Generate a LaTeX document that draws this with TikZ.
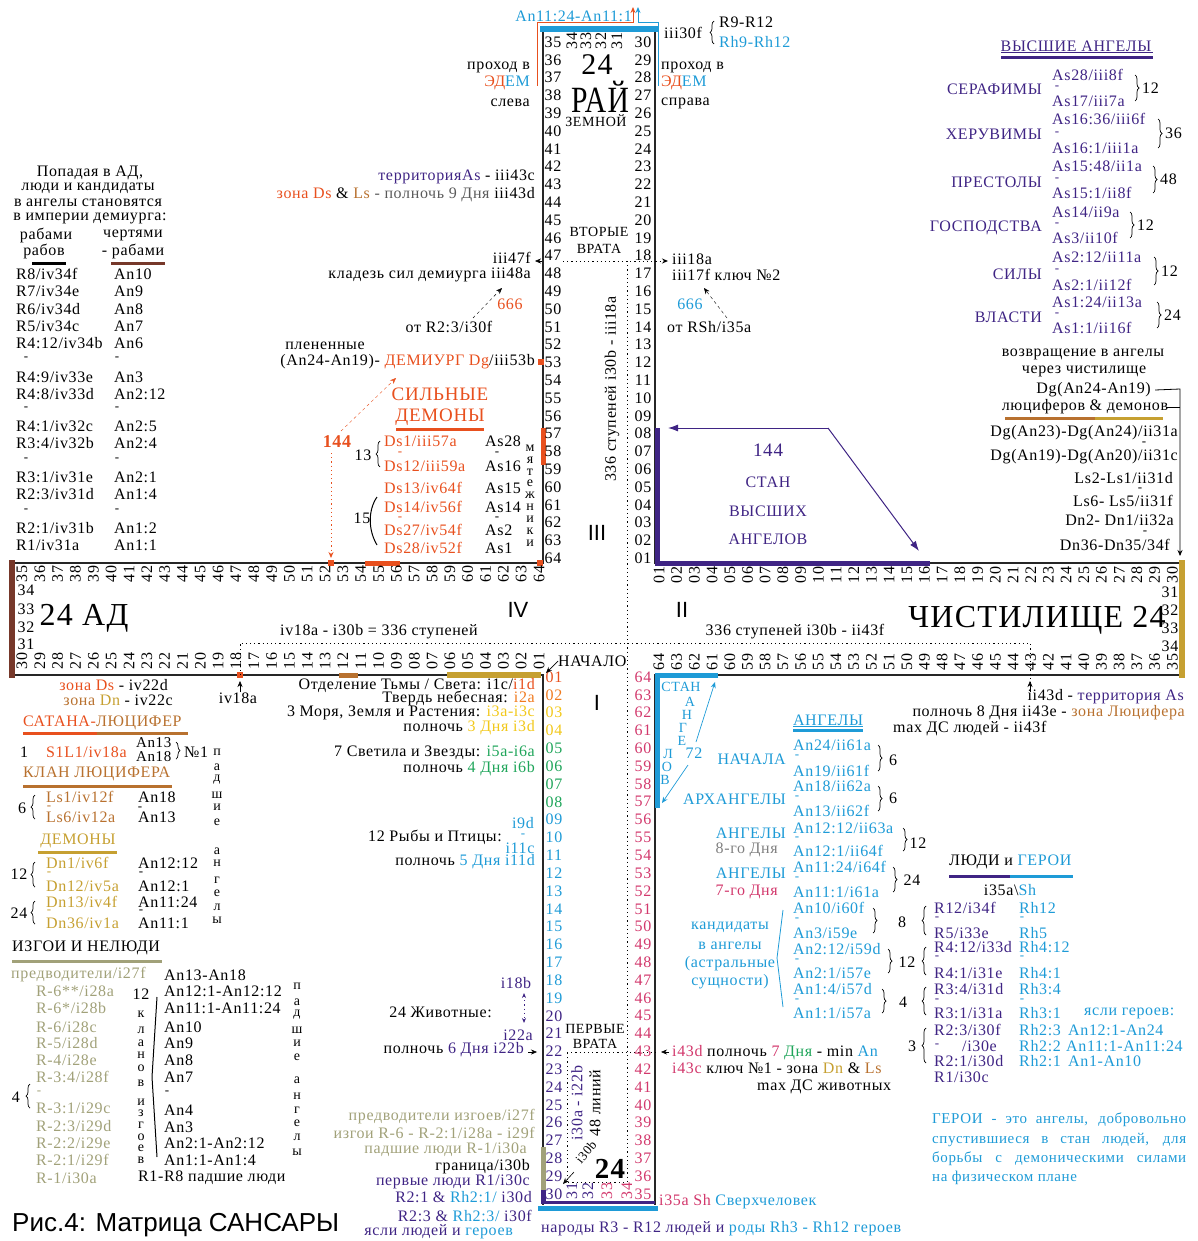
\documentclass[tikz,border=0pt]{standalone}
\usepackage{fontspec}
\setmainfont{Liberation Serif}[LetterSpace=4]
\newfontfamily\arialf{Liberation Sans}
\usetikzlibrary{arrows.meta, decorations.pathreplacing, positioning}

\definecolor{dsred}{HTML}{E8501E}
\definecolor{dorange}{HTML}{F07A1E}
\definecolor{lsbrown}{HTML}{B8712F}
\definecolor{dngold}{HTML}{C6A031}
\definecolor{adbrown}{HTML}{76382A}
\definecolor{aspur}{HTML}{3F2484}
\definecolor{anblue}{HTML}{1E9BD7}
\definecolor{rcrim}{HTML}{D2386C}
\definecolor{izkhaki}{HTML}{A1A179}
\definecolor{dgreen}{HTML}{1FA55A}
\definecolor{dyellow}{HTML}{F2C81A}
\definecolor{dgray}{HTML}{5A5A5A}

\newcommand\fsz[1]{\fontsize{#1}{#1}\selectfont}
\newcommand\twod[1]{\ifnum#1<10 0\fi#1}

\tikzset{
  armline/.style={line width=1.6pt, black!85},
  cbar/.style={line width=5pt},
  dotline/.style={line width=0.9pt, dash pattern=on 1.2pt off 3pt},
  arr/.style={-{Stealth[length=6pt,width=5pt]}},
  brc/.style={decorate, decoration={brace, amplitude=4pt}, line width=0.7pt},
  num/.style={font=\fsz{16}},
  rnum/.style={font=\fsz{16}, rotate=90},
  vlet/.style={font=\fsz{14}},
  dsh/.style={font=\fsz{13}},
}

\begin{document}
\begin{tikzpicture}[x=1pt, y=-1pt, every node/.style={inner sep=0pt}, font=\fsz{16}]
\useasboundingbox (0,0) rectangle (1197,1241);

% arms of the cross
\draw[armline] (12,563) -- (543,563) -- (543,28);
\draw[armline] (655,28) -- (655,563) -- (1183,563);
\draw[armline] (12,675) -- (543,675) -- (543,1205);
\draw[armline] (1183,675) -- (655,675) -- (655,1205);

% coloured bars
\draw[anblue, line width=6pt] (540,29) -- (658,29);
\draw[adbrown, line width=6pt] (12,560) -- (12,678);
\draw[dngold, line width=6pt] (1182,560) -- (1182,678);
\draw[dsred, cbar] (543,428) -- (543,465);
\draw[dsred, cbar] (365,563) -- (400,563);
\fill[dsred] (538,359) rectangle (544,365);
\fill[dsred] (328,560) rectangle (334,566);
\fill[dsred] (537,560) rectangle (543,566);
\fill[dsred] (237,672) rectangle (243,678);
\draw[lsbrown, cbar] (339,675) -- (358,675);
\draw[dngold, line width=6pt] (447,675) -- (541,675);
\draw[aspur, cbar] (657,428) -- (657,563) -- (930,563);
\draw[anblue, cbar] (718,675) -- (657,675) -- (657,808);
\draw[izkhaki, cbar] (543,1147) -- (543,1190);
\draw[aspur, cbar] (543,1190) -- (543,1203);
\draw[aspur, line width=3pt] (541,1202) -- (655,1202);
\draw[anblue, cbar] (538,1208) -- (658,1208);

% dotted paths
\draw[dotline] (627,261) -- (627,1182) -- (567,1182) -- (567,1052);
\draw[dotline] (240,675) -- (240,643) -- (1030,643) -- (1030,690);
\draw[dotline, arr] (563,261) -- (668,261);
\draw[arr] (542,261) -- (535,261);
\draw[dotline] (567,1052) -- (656,1052);
\draw[arr] (528,1052) -- (537,1052);
\draw[arr] (669,1052) -- (661,1052);
\draw[arr] (240,692) -- (240,681);
\draw[arr] (1030,692) -- (1030,681);

% numbers: upper arm
\foreach \k in {0,...,29}{
  \pgfmathtruncatemacro\a{35+\k}
  \pgfmathtruncatemacro\b{30-\k}
  \node[num] (ra\a) at (553,42+17.8*\k) {\a};
  \node[num] (rb\b) at (643,42+17.8*\k) {\twod\b};
}
\foreach \x/\n in {572/34,586/33,601/32,617/31}
  \node[rnum] (rt\n) at (\x,41) {\n};

% numbers: hell arm
\foreach \k in {0,...,29}{
  \pgfmathtruncatemacro\a{35+\k}
  \pgfmathtruncatemacro\b{30-\k}
  \node[rnum] (ha\a) at (22+17.83*\k,574) {\a};
  \node[rnum] (hb\b) at (22+17.83*\k,661) {\twod\b};
}
\foreach \y/\n in {590/34,609/33,627/32,644/31}
  \node[num] (hl\n) at (26,\y) {\n};

% numbers: purgatory arm
\foreach \k in {0,...,29}{
  \pgfmathtruncatemacro\a{1+\k}
  \pgfmathtruncatemacro\b{64-\k}
  \node[rnum] (pa\a) at (659+17.7*\k,575) {\twod\a};
  \node[rnum] (pb\b) at (659+17.7*\k,662) {\b};
}
\foreach \y/\n in {592/31,610/32,628/33,646/34}
  \node[num] (pr\n) at (1170,\y) {\n};

% numbers: lower arm
\foreach \c [count=\k from 0] in {dsred,dorange,dyellow,dyellow,dgreen,dgreen,dgreen,dgreen,
    anblue,anblue,anblue,anblue,anblue,anblue,anblue,anblue,anblue,anblue,anblue,
    aspur,aspur,aspur,aspur,aspur,aspur,aspur,aspur,aspur,aspur,aspur}{
  \pgfmathtruncatemacro\a{1+\k}
  \pgfmathtruncatemacro\b{64-\k}
  \node[num, text=\c] (ia\a) at (554,677+17.83*\k) {\twod\a};
  \node[num, text=rcrim] (ib\b) at (643,677+17.83*\k) {\b};
}
\foreach \x/\n/\c in {572/31/aspur,588/32/aspur,607/33/rcrim,627/34/rcrim}
  \node[rnum, text=\c] (ibt\n) at (\x,1191) {\n};

% big titles
\node[font=\fsz{32}] (hell) at (84,618) {24 АД};
\node[font=\fsz{32}] (purg) at (1037,620) {ЧИСТИЛИЩЕ 24};
\node[font=\fsz{30}] (rai24) at (597,65) {24};
\node[font=\fsz{37}, xscale=0.8] (rai) at (600,97) {РАЙ};
\node[font=\fsz{14}] (zemn) at (596,121) {ЗЕМНОЙ};
\node[font=\fsz{14}] (vt1) at (599,232) {ВТОРЫЕ};
\node[font=\fsz{14}] (vt2) at (599,249) {ВРАТА};
\node[font=\fsz{14}] (pv1) at (595,1029) {ПЕРВЫЕ};
\node[font=\fsz{14}] (pv2) at (595,1044) {ВРАТА};
\node[font=\arialf\fsz{22}] (q3) at (597,533) {III};
\node[font=\arialf\fsz{22}] (q4) at (518,610) {IV};
\node[font=\arialf\fsz{22}] (q2) at (682,610) {II};
\node[font=\arialf\fsz{22}] (q1) at (597,703) {I};
\node[font=\arialf\fsz{26}, anchor=west] (cap) at (12,1225) {Рис.4: Матрица САНСАРЫ};

% top of paradise
\draw[dsred, line width=1pt, arr] (537,86) -- (537,23) -- (633,23) -- (633,7);
\draw[anblue, line width=1pt, arr] (658,86) -- (658,23) -- (638,23) -- (638,7);
\node[anchor=east, text=anblue] (an11) at (632,16) {An11:24-An11:1};
\node (i30f) at (683,33) {iii30f};
\draw[brc] (714,44) -- (714,21);
\node[anchor=west] (r9) at (719,22) {R9-R12};
\node[anchor=west, text=anblue] (rh9) at (719,42) {Rh9-Rh12};
\node[anchor=east] (pl1) at (530,67) {проход в};
\node[anchor=east] (ed1) at (530,83) {\textcolor{dsred}{ЭД}\textcolor{anblue}{ЕМ}};
\node[anchor=east] (sl) at (530,103) {слева};
\node[anchor=west] (pr1) at (661,67) {проход в};
\node[anchor=west] (ed2) at (661,83) {\textcolor{dsred}{ЭД}\textcolor{anblue}{ЕМ}};
\node[anchor=west] (spr) at (661,103) {справа};

% left of paradise
\node[anchor=east] (terAs) at (535,177) {\textcolor{aspur}{территорияAs} - iii43c};
\node[anchor=east] (zonaDs) at (535,195) {\textcolor{dsred}{зона Ds} \& \textcolor{lsbrown}{Ls} \textcolor{dgray}{- полночь 9 Дня} iii43d};
\node[anchor=east] (i47f) at (531,258) {iii47f};
\node[anchor=east] (klad) at (531,275) {кладезь сил демиурга iii48a};
\node[text=dsred] (n666a) at (510,304) {666};
\node (otR) at (449,327) {от R2:3/i30f};
\coordinate (kladin) at (502,288);
\draw[dashed, arr] (473,318) -- (kladin);
\node (plen) at (325,346) {плененные};
\node[anchor=east] (demi) at (535,362) {(An24-An19)- \textcolor{dsred}{ДЕМИУРГ Dg}/iii53b};
\node[text=dsred, font=\fsz{19}] (sil1) at (440,394) {СИЛЬНЫЕ};
\node[text=dsred, font=\fsz{19}] (sil2) at (440,417) {ДЕМОНЫ};
\draw[dsred, line width=3pt] (396,429) -- (484,429);
\node[text=dsred, font=\bfseries\fsz{18}] (o144) at (337,442) {144};
\coordinate (demin) at (396,378);
\draw[dsred, dashed, arr] (341,431) -- (demin);
\draw[dsred, dotline, arr] (331,453) -- (331,558);
\node (n13) at (363,455) {13};
\draw[brc] (380,467) -- (380,441);
\foreach \y/\t [count=\i] in {441/{Ds1/iii57a},466/{Ds12/iii59a},488/{Ds13/iv64f},507/{Ds14/iv56f},530/{Ds27/iv54f},548/{Ds28/iv52f}}
  \node[anchor=west, text=dsred] (ds\i) at (384,\y) {\t};
\foreach \y/\t [count=\i] in {441/As28,466/As16,488/As15,507/As14,530/As2,548/As1}
  \node[anchor=west] (dsa\i) at (485,\y) {\t};
\foreach \y [count=\i] in {454,519}{
  \node[dsh, text=dsred] (dsm\i) at (400,\y) {-};
  \node[dsh] (dsam\i) at (497,\y) {-};
}
\node (n15) at (362,518) {15};
\draw[line width=1pt] (377,497) .. controls (368,510) and (368,530) .. (377,545);
\foreach \l [count=\i from 0] in {м,я,т,е,ж,н,и,к,и}
  \node[vlet] (mj\i) at (530,448+11.9*\i) {\l};

% right of paradise
\node[anchor=west] (i18a) at (672,259) {iii18a};
\node[anchor=west] (i17f) at (672,275) {iii17f ключ №2};
\node[text=anblue] (n666b) at (690,304) {666};
\node[anchor=west] (otRSh) at (667,327) {от RSh/i35a};
\coordinate (keyin) at (704,288);
\draw[dashed, arr] (727,318) -- (keyin);
\node[rotate=90] (st336) at (612,389) {336 ступеней i30b - iii18a};

% camp of higher angels
\coordinate (pk) at (828,428);
\draw[aspur, line width=1pt, -{Latex[length=10pt,width=7pt]}] (pk) -- (668,428);
\draw[aspur, line width=1pt, -{Latex[length=10pt,width=7pt]}] (pk) -- (919,551);
\node[text=aspur, font=\fsz{19}] (s144) at (768,450) {144};
\node[text=aspur] (stan) at (768,482) {СТАН};
\node[text=aspur] (vysh) at (768,511) {ВЫСШИХ};
\node[text=aspur] (angv) at (768,539) {АНГЕЛОВ};

% higher angels
\node[text=aspur] (vys) at (1076,46) {ВЫСШИЕ АНГЕЛЫ};
\draw[aspur, line width=0.6pt] (1001,52.5) -- (1153,52.5);
\draw[aspur, line width=3pt] (1001,57.5) -- (1153,57.5);
\foreach \y/\t [count=\i] in {89/СЕРАФИМЫ,134/ХЕРУВИМЫ,182/ПРЕСТОЛЫ,228/ГОСПОДСТВА,274/СИЛЫ,317/ВЛАСТИ}
  \node[anchor=east, text=aspur] (rank\i) at (1042,\y) {\t};
\foreach \y/\t [count=\i] in {75/{As28/iii8f},101/{As17/iii7a},119/{As16:36/iii6f},148/{As16:1/iii1a},166/{As15:48/ii1a},193/{As15:1/ii8f},212/{As14/ii9a},238/{As3/ii10f},257/{As2:12/ii11a},285/{As2:1/ii12f},302/{As1:24/ii13a},328/{As1:1/ii16f}}
  \node[anchor=west, text=aspur] (as\i) at (1052,\y) {\t};
\foreach \y in {88,134,180,225,271,315}
  \node[dsh, text=aspur] (asd\y) at (1057,\y) {-};
\foreach \x/\a/\b/\n in {1135/75/101/12,1158/119/148/36,1153/166/193/48,1130/212/238/12,1154/257/285/12,1157/302/328/24}{
  \draw[brc] (\x,\a) -- (\x,\b);
  \node[anchor=west] (hs\a) at (\x+7,{(\a+\b)/2}) {\n};
}

% return through purgatory
\node (voz1) at (1083,354) {возвращение в ангелы};
\node (voz2) at (1084,371) {через чистилище};
\node[anchor=east] (dgan) at (1151,390) {Dg(An24-An19)};
\node (lucd) at (1085,407) {люциферов \& демонов};
\draw[lsbrown, line width=3pt] (1005,418) -- (1095,418);
\draw[dngold, line width=3pt] (1095,418) -- (1163,418);
\draw[line width=0.8pt, arr] (dgan.east) ++(4,0) -- (1180,389) -- (1180,556);
\draw[line width=0.8pt] (1166,407) -- (1180,407);
\foreach \x/\y/\t [count=\i] in {1178/433/{Dg(An23)-Dg(An24)/ii31a},1178/457/{Dg(An19)-Dg(An20)/ii31c},1173/478/{Ls2-Ls1/ii31d},1173/501/{Ls6- Ls5/ii31f},1174/520/{Dn2- Dn1/ii32a},1170/545/{Dn36-Dn35/34f}}
  \node[anchor=east] (ret\i) at (\x,\y) {\t};
\foreach \x/\y [count=\i] in {1144/444,1140/490,1145/533}
  \node[dsh] (retd\i) at (\x,\y) {-};

% centre
\node (st1) at (379,632) {iv18a - i30b = 336 ступеней};
\node (st2) at (795,632) {336 ступеней i30b - ii43f};
\node[anchor=west] (nach0) at (558,661) {НАЧАЛО};
\draw[line width=0.7pt, arr] (nach0.west) -- (546,673);

% under hell
\node[anchor=east] (zds) at (168,685) {\textcolor{dsred}{зона Ds} - iv22d};
\node[anchor=east] (zdn) at (173,700) {\textcolor{lsbrown}{зона} \textcolor{dngold}{Dn} - iv22c};
\node (iv18) at (238,698) {iv18a};

% days of creation
\node[anchor=east] (d1) at (535,685) {Отделение Тьмы / Света: i1c/\textcolor{dsred}{i1d}};
\node[anchor=east] (d2) at (535,698) {Твердь небесная: \textcolor{dorange}{i2a}};
\node[anchor=east] (d3) at (535,713) {3 Моря, Земля и Растения: \textcolor{dyellow}{i3a-i3c}};
\node[anchor=east] (d3n) at (535,728) {полночь \textcolor{dyellow}{3 Дня i3d}};
\node[anchor=east] (d4) at (535,753) {7 Светила и Звезды: \textcolor{dgreen}{i5a-i6a}};
\node[anchor=east] (d4n) at (535,769) {полночь \textcolor{dgreen}{4 Дня i6b}};
\node[text=anblue] (i9d) at (523,823) {i9d};
\node[dsh, text=anblue] (i9m) at (523,836) {-};
\node[text=anblue] (i11c) at (520,848) {i11c};
\node[anchor=east] (d5) at (502,837) {12 Рыбы и Птицы:};
\node[anchor=east] (d5n) at (535,862) {полночь \textcolor{anblue}{5 Дня i11d}};
\node[text=aspur] (i18b) at (516,983) {i18b};
\node[text=aspur] (i22a) at (518,1035) {i22a};
\draw[aspur, dotline, {Stealth[length=5pt,width=4pt]}-{Stealth[length=5pt,width=4pt]}] (524,993) -- (524,1023);
\node[anchor=east] (d6) at (492,1012) {24 Животные:};
\node[anchor=east] (d6n) at (524,1050) {полночь \textcolor{aspur}{6 Дня i22b}};

% outcasts and first people
\node[anchor=east, text=izkhaki] (pi1) at (535,1117) {предводители изгоев/i27f};
\node[anchor=east, text=izkhaki] (pi2) at (535,1133) {изгои R-6 - R-2:1/i28a - i29f};
\node[anchor=east, text=izkhaki] (pi3) at (527,1150) {падшие люди R-1/i30a};
\node[anchor=east] (gran) at (530,1167) {граница/i30b};
\node[anchor=east, text=aspur] (perv) at (530,1182) {первые люди R1/i30c};
\node[anchor=east, text=aspur] (r21) at (532,1197) {R2:1 \& \textcolor{anblue}{Rh2:1/} i30d};
\node[anchor=east, text=aspur] (r23) at (532,1216) {R2:3 \& \textcolor{anblue}{Rh2:3/} i30f};
\node[anchor=east, text=aspur] (yasli) at (513,1232) {ясли людей и \textcolor{anblue}{героев}};
\node[anchor=west, text=aspur] (narod) at (541,1229) {народы R3 - R12 людей и \textcolor{anblue}{роды Rh3 - Rh12 героев}};
\node[anchor=west, text=rcrim] (sh) at (659,1202) {i35a Sh \textcolor{anblue}{Сверхчеловек}};
\node[rotate=90, text=aspur] (i30a) at (577,1103) {i30a - i22b};
\node[rotate=90] (l48) at (595,1103) {48 линий};
\node[rotate=50, font=\fsz{13}] (i30b) at (586,1152) {i30b};
\node[font=\bfseries\fsz{29}] (b24) at (610,1169) {24};
\draw[line width=0.6pt, arr] (574,1172) -- (563,1184);

% right of lower arm
\node[anchor=west] (i43d) at (672,1053) {\textcolor{rcrim}{i43d} полночь \textcolor{rcrim}{7} \textcolor{dgreen}{Дня} - min \textcolor{anblue}{An}};
\node[anchor=west] (i43c) at (672,1068) {\textcolor{rcrim}{i43c} ключ №1 - зона \textcolor{dngold}{Dn} \& \textcolor{lsbrown}{Ls}};
\node[anchor=west] (maxds) at (757,1087) {max ДС животных};
\node[anchor=east] (ii43d) at (1184,697) {ii43d - \textcolor{aspur}{территория As}};
\node[anchor=east] (ii43e) at (1185,713) {полночь 8 Дня ii43e - \textcolor{lsbrown}{зона Люцифера}};
\node[anchor=west] (ii43f) at (893,729) {max ДС людей - ii43f};

% camp of angels
\node[text=anblue, font=\fsz{14}] (stanA) at (681,687) {СТАН};
\foreach \x/\y/\l [count=\i] in {690/702/А,687/715/Н,683/728/Г,682/741/Е,668/754/Л,667/767/О,665/780/В}
  \node[text=anblue, font=\fsz{14}] (sa\i) at (\x,\y) {\l};
\node[text=anblue] (a72) at (694,753) {72};
\draw[anblue, line width=0.7pt, arr] (696,742) -- (715,682);
\draw[anblue, line width=0.7pt, arr] (688,765) -- (662,803);

% angels
\node[text=anblue] (ang) at (828,720) {АНГЕЛЫ};
\draw[anblue, line width=0.6pt] (793,726) -- (863,726);
\draw[anblue, line width=3pt] (793,730) -- (863,730);
\node[anchor=east, text=anblue] (nach) at (786,759) {НАЧАЛА};
\node[anchor=east, text=anblue] (arh) at (786,799) {АРХАНГЕЛЫ};
\node[anchor=east, text=anblue] (ang8) at (786,833) {АНГЕЛЫ};
\node[anchor=east, text=gray] (d8) at (778,850) {8-го Дня};
\node[anchor=east, text=anblue] (ang7) at (786,873) {АНГЕЛЫ};
\node[anchor=east, text=rcrim] (d7) at (778,892) {7-го Дня};
\foreach \y/\t [count=\i] in {745/{An24/ii61a},771/{An19/ii61f},786/{An18/ii62a},811/{An13/ii62f},828/{An12:12/ii63a},851/{An12:1/ii64f},867/{An11:24/i64f},892/{An11:1/i61a},908/{An10/i60f},933/{An3/i59e},949/{An2:12/i59d},973/{An2:1/i57e},989/{An1:4/i57d},1013/{An1:1/i57a}}
  \node[anchor=west, text=anblue] (an\i) at (793,\y) {\t};
\foreach \y in {757,798,839,879,920,961,1001}
  \node[dsh, text=anblue] (and\y) at (797,\y) {-};
\foreach \x/\a/\b [count=\i] in {878/745/771,878/786/811,903/828/851,893/867/892,873/908/933,888/949/973,882/989/1013}
  \draw[brc] (\x,\a) -- (\x,\b);
\foreach \x/\y/\n in {893/760/6,893/798/6,918/843/12,912/880/24,902/922/8,907/962/12,903/1002/4,912/1046/3}
  \node (bn\y) at (\x,\y) {\n};
\foreach \a/\b in {908/933,949/973,989/1013,1030/1061}
  \draw[brc] (926,\b+2) -- (926,\a-2);
\foreach \y/\t [count=\i] in {927/кандидаты,946/в ангелы,964/(астральные,982/сущности)}
  \node[text=anblue] (kand\i) at (730,\y) {\t};
\draw[anblue, line width=0.8pt] (783,910) -- (777,958) -- (783,1007);

% people and heroes
\node[anchor=west] (ludi) at (949,862) {ЛЮДИ и \textcolor{anblue}{ГЕРОИ}};
\draw[aspur, line width=3pt] (949,876) -- (1010,876);
\draw[anblue, line width=3pt] (1010,876) -- (1073,876);
\node (i35sh) at (1010,890) {i35a\textbackslash\textcolor{anblue}{Sh}};
\foreach \y/\t [count=\i] in {908/{R12/i34f},933/{R5/i33e},947/{R4:12/i33d},973/{R4:1/i31e},989/{R3:4/i31d},1013/{R3:1/i31a},1030/{R2:3/i30f},1061/{R2:1/i30d},1077/{R1/i30c}}
  \node[anchor=west, text=aspur] (rr\i) at (934,\y) {\t};
\node[dsh, text=aspur] (rrm) at (937,1046) {-};
\node[anchor=west, text=aspur] (i30e) at (962,1046) {/i30e};
\foreach \y/\t [count=\i] in {908/Rh12,933/Rh5,947/Rh4:12,973/Rh4:1,989/Rh3:4,1013/Rh3:1,1030/Rh2:3,1046/Rh2:2,1061/Rh2:1}
  \node[anchor=west, text=anblue] (rh\i) at (1019,\y) {\t};
\foreach \y in {919,958,1001}{
  \node[dsh, text=aspur] (rrd\y) at (937,\y) {-};
  \node[dsh, text=anblue] (rhd\y) at (1022,\y) {-};
}
\node[anchor=west, text=anblue] (ya1) at (1068,1030) {An12:1-An24};
\node[anchor=west, text=anblue] (ya2) at (1066,1046) {An11:1-An11:24};
\node[anchor=west, text=anblue] (ya3) at (1068,1061) {An1-An10};
\node[anchor=west, text=anblue] (yg) at (1084,1013) {ясли героев:};
\node[anchor=west, text=anblue, font=\fsz{15}] (her1) at (932,1120) {\makebox[254pt][s]{ГЕРОИ - это ангелы, добровольно}};
\node[anchor=west, text=anblue, font=\fsz{15}] (her2) at (932,1140) {\makebox[254pt][s]{спустившиеся в стан людей, для}};
\node[anchor=west, text=anblue, font=\fsz{15}] (her3) at (932,1159) {\makebox[254pt][s]{борьбы с демоническими силами}};
\node[anchor=west, text=anblue, font=\fsz{15}] (her4) at (932,1178) {на физическом плане};

% hell: slaves of slaves
\node (pop1) at (90,173) {Попадая в АД,};
\node (pop2) at (88,188) {люди и кандидаты};
\node (pop3) at (88,203) {в ангелы становятся};
\node (pop4) at (90,218) {в империи демиурга:};
\node (rab1) at (46,235) {рабами};
\node (rab2) at (44,251) {рабов};
\node (cher1) at (133,235) {чертями};
\node (cher2) at (133,251) {- рабами};
\draw[line width=3pt] (32,263) -- (66,263);
\draw[adbrown, line width=3pt] (111,263) -- (165,263);
\foreach \y/\a/\b [count=\i] in {274/{R8/iv34f}/An10,291/{R7/iv34e}/An9,309/{R6/iv34d}/An8,326/{R5/iv34c}/An7,343/{R4:12/iv34b}/An6,377/{R4:9/iv33e}/An3,394/{R4:8/iv33d}/An2:12,426/{R4:1/iv32c}/An2:5,443/{R3:4/iv32b}/An2:4,477/{R3:1/iv31e}/An2:1,494/{R2:3/iv31d}/An1:4,528/{R2:1/iv31b}/An1:2,545/{R1/iv31a}/An1:1}{
  \node[anchor=west] (hr\i) at (16,\y) {\a};
  \node[anchor=west] (ha\i) at (114,\y) {\b};
}
\foreach \y in {359,409,460,511}{
  \node[dsh] (hrd\y) at (26,\y) {-};
  \node[dsh] (had\y) at (117,\y) {-};
}

% satan and lucifer's clan
\node[anchor=west] (sat) at (23,723) {\textcolor{dsred}{САТАНА-}\textcolor{lsbrown}{ЛЮЦИФЕР}};
\draw[dsred, line width=3pt] (23,733) -- (97,733);
\draw[lsbrown, line width=3pt] (97,733) -- (188,733);
\node (one) at (24,752) {1};
\node[anchor=west, text=dsred] (s1l1) at (46,752) {S1L1/iv18a};
\node[anchor=west, font=\fsz{15}] (an13a) at (136,743) {An13};
\node[anchor=west, font=\fsz{15}] (an18a) at (136,757) {An18};
\draw[brc] (176,742) -- (176,759);
\node[anchor=west] (no1) at (184,752) {№1};
\foreach \y/\l [count=\i] in {752/п,767/а,780/д,795/ш,807/и,822/е,851/а,863/н,880/г,893/е,907/л,920/ы}
  \node[vlet] (pa\i) at (217,\y) {\l};
\node[anchor=west, text=lsbrown] (klan) at (23,774) {КЛАН ЛЮЦИФЕРА};
\draw[lsbrown, line width=3pt] (23,786) -- (172,786);
\node (six) at (22,808) {6};
\draw[brc] (35,819) -- (35,795);
\node[anchor=west, text=lsbrown] (ls1) at (46,797) {Ls1/iv12f};
\node[dsh, text=lsbrown] (lsd) at (49,808) {-};
\node[anchor=west, text=lsbrown] (ls6) at (46,817) {Ls6/iv12a};
\node[anchor=west] (an18b) at (138,797) {An18};
\node[dsh] (an1d) at (140,809) {-};
\node[anchor=west] (an13b) at (138,817) {An13};
\node[text=dngold] (dem) at (78,841) {ДЕМОНЫ};
\draw[dngold, line width=3pt] (38,852) -- (117,852);
\node (tw) at (19,874) {12};
\draw[brc] (35,887) -- (35,862);
\node (tf) at (19,913) {24};
\draw[brc] (35,924) -- (35,901);
\foreach \y/\a/\b [count=\i] in {863/{Dn1/iv6f}/An12:12,886/{Dn12/iv5a}/An12:1,902/{Dn13/iv4f}/An11:24,923/{Dn36/iv1a}/An11:1}{
  \node[anchor=west, text=dngold] (dn\i) at (46,\y) {\a};
  \node[anchor=west] (dna\i) at (138,\y) {\b};
}
\foreach \y in {874,912}{
  \node[dsh, text=dngold] (dnd\y) at (49,\y) {-};
  \node[dsh] (dnad\y) at (141,\y) {-};
}

% outcasts
\node[anchor=west] (izg) at (12,948) {ИЗГОИ И НЕЛЮДИ};
\draw[izkhaki, line width=3pt] (12,961) -- (162,961);
\node[anchor=west, text=izkhaki] (predv) at (11,975) {предводители/i27f};
\foreach \y/\t [count=\i] in {991/{R-6**/i28a},1008/{R-6*/i28b},1027/{R-6/i28c},1043/{R-5/i28d},1060/{R-4/i28e},1077/{R-3:4/i28f},1108/{R-3:1/i29c},1126/{R-2:3/i29d},1143/{R-2:2/i29e},1160/{R-2:1/i29f}}
  \node[anchor=west, text=izkhaki] (iz\i) at (36,\y) {\t};
\node[dsh, text=izkhaki] (izm) at (39,1093) {-};
\node[anchor=west, text=izkhaki] (r1i) at (36,1178) {R-1/i30a};
\node (four) at (16,1097) {4};
\draw[brc] (30,1108) -- (30,1084);
\node (kl12) at (141,994) {12};
\foreach \y/\l [count=\i] in {1014/к,1030/л,1043/а,1055/н,1068/о,1083/в,1102/и,1113/з,1125/г,1137/о,1148/е,1160/в}
  \node[vlet] (kl\i) at (141,\y) {\l};
\draw[line width=1pt] (157,997) -- (152,1077) -- (157,1157);
\foreach \y/\t [count=\i] in {975/An13-An18,991/An12:1-An12:12,1008/An11:1-An11:24,1027/An10,1043/An9,1060/An8,1077/An7,1110/An4,1127/An3,1143/An2:1-An2:12,1160/An1:1-An1:4}
  \node[anchor=west] (izan\i) at (164,\y) {\t};
\node[dsh] (izanm) at (167,1093) {-};
\node[anchor=west] (r1r8) at (138,1178) {R1-R8 падшие люди};
\foreach \y/\l [count=\i] in {986/п,1002/а,1015/д,1030/ш,1043/и,1057/е,1080/а,1096/н,1110/г,1123/е,1137/л,1152/ы}
  \node[vlet] (pb\i) at (297,\y) {\l};

\end{tikzpicture}
\end{document}
